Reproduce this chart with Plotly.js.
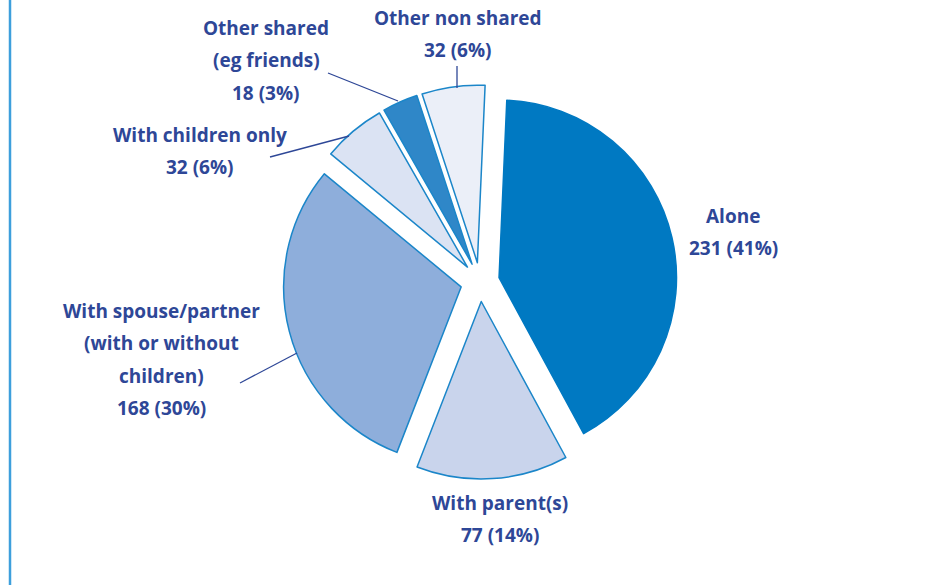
<!DOCTYPE html>
<html>
<head>
<meta charset="utf-8">
<script src="https://cdn.plot.ly/plotly-3.0.1.min.js"></script>
<style>html,body{margin:0;padding:0;background:#fff;}#chart{width:930px;height:585px;}</style>
</head>
<body>
<div id="chart"></div>
<script>
// ---- data ----
var categories = ["Alone", "With parent(s)", "With spouse/partner<br>(with or without<br>children)", "With children only", "Other shared<br>(eg friends)", "Other non shared"];
var values = [231, 77, 168, 32, 18, 32];

// ---- styles / layout ----
var W = 930, H = 585;
var fillColors = ["#0079c2", "#c9d4ec", "#8eaedb", "#dbe3f3", "#2f87c8", "#ebeff8"];
var lineColors = ["#0079c2", "#1b86c9", "#1b86c9", "#1b86c9", "#1b86c9", "#1b86c9"];
var textColor = "#2e4797";
// label anchor: centre x, first-line centre y (pixels)
var labelPos = [[733, 216], [500, 503], [161, 311], [200, 135], [266, 28], [458, 18]];
var lineStep = 32.3;
// leader lines (pixels)
var leaders = [
  [[328, 73], [398, 101]],
  [[270, 157], [349, 136]],
  [[457, 66], [457, 88]],
  [[240, 383], [297, 353]]
];

var total = values.reduce(function(a, b) { return a + b; }, 0);

var trace = {
  type: "pie",
  values: values,
  labels: categories,
  sort: false,
  direction: "clockwise",
  rotation: 2.5,
  pull: 0.11,
  textinfo: "none",
  hoverinfo: "label+value+percent",
  marker: { colors: fillColors, line: { color: lineColors, width: 1.5 } },
  domain: { x: [0.0323, 1], y: [(H - 479) / H, (H - 85) / H] },
  showlegend: false
};

var annotations = [];
categories.forEach(function(cat, i) {
  var pct = Math.round(values[i] / total * 100);
  var lines = cat.split("<br>").concat([values[i] + " (" + pct + "%)"]);
  lines.forEach(function(ln, j) {
    annotations.push({
      xref: "paper", yref: "paper",
      x: labelPos[i][0] / W, y: 1 - (labelPos[i][1] + j * lineStep) / H,
      xanchor: "center", yanchor: "middle",
      text: "<b>" + ln + "</b>", showarrow: false,
      font: { family: "Open Sans, sans-serif", size: 19, color: textColor }
    });
  });
});

var shapes = leaders.map(function(l) {
  return {
    type: "line", xref: "paper", yref: "paper",
    x0: l[0][0] / W, y0: 1 - l[0][1] / H, x1: l[1][0] / W, y1: 1 - l[1][1] / H,
    line: { color: textColor, width: 1.3 }
  };
});
shapes.push({
  type: "line", xref: "paper", yref: "paper",
  x0: 10 / W, x1: 10 / W, y0: 0, y1: 1,
  line: { color: "#3d9fdc", width: 2.5 }
});

var layout = {
  width: W, height: H,
  margin: { l: 0, r: 0, t: 0, b: 0 },
  paper_bgcolor: "#ffffff",
  annotations: annotations,
  shapes: shapes
};

Plotly.newPlot("chart", [trace], layout, { displayModeBar: false, staticPlot: true });
</script>
</body>
</html>
